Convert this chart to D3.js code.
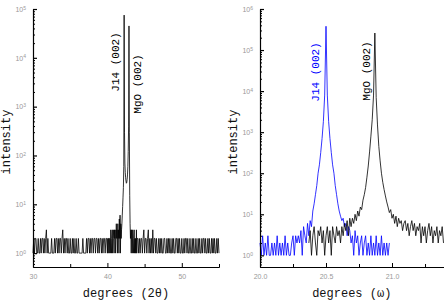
<!DOCTYPE html>
<html>
<head>
<meta charset="utf-8">
<script src="https://cdn.jsdelivr.net/npm/d3@7"></script>
<style>
body { margin: 0; background: #fff; }
svg { display: block; font-family: "Liberation Mono", "DejaVu Sans Mono", monospace; }
.tick text { fill: #999; font-family: "Liberation Sans", Arial, sans-serif; font-size: 7px; }
.axis path, .axis line { stroke: #000; }
</style>
</head>
<body>
<script>
'use strict';

// 2theta scan (three sampling windows)
var thetaLowStart = 30.0, thetaLowStep = 0.1;
var thetaLow = [
    1,2,1,2,2,1,1,2,1,1,
    2,1,2,2,1,2,1,2,3,1,
    2,1,1,1,1,2,1,1,1,2,
    1,2,2,1,2,1,2,2,1,2,
    3,1,2,1,2,2,1,2,1,1,
    2,1,1,2,1,2,1,1,2,1,
    1,2,1,1,1,1,1,2,1,1,
    1,1,2,1,2,2,1,2,1,2,
    2,1,2,2,1,2,2,1,2,1,
    2,2,1,2,1,2,2,1,2,2
];
var thetaPeakStart = 40.0, thetaPeakStep = 0.05;
var thetaPeak = [
    1,2,1,2,2,1,2,2,1,3,
    2,1,2,3,1,2,3,2,1,3,
    2,3,1,2,4,2,3,1,4,2,
    3,1,5,2,6,1,4,2,3,4,
    6,9,14,22,60,75000,300,70,45,35,
    30,27,28,32,40,60,120,400,45000,300,
    15,4,2,3,1,3,2,1,3,2,
    1,2,3,1,2,1,2,1,3,1,
    2
];
var thetaHighStart = 44.1, thetaHighStep = 0.1;
var thetaHigh = [
    2,1,2,1,2,2,1,2,3,1,
    2,2,1,2,3,1,2,1,2,1,
    3,1,2,2,1,2,1,1,2,1,
    2,1,2,1,1,2,2,1,1,2,
    1,2,1,2,1,1,2,1,2,1,
    1,2,2,1,2,1,2,1,1,2,
    1,1,2,1,2,2,1,2,1,1,
    2,1,1,2,1,2,1,1,2,1,
    1,2,1,2,1,1,2,1,2,2,
    1,2,1,1,2,1,2,1,1,2,
    1,2,1,2,1,1,2,1,2,1
];

// omega scans (step 0.01)
var omegaJ14Start = 20.0;
var omegaJ14 = [
    2,1,3,1,2,1,3,1,1,2,
    1,2,1,3,1,2,1,2,1,3,
    1,2,1,1,2,3,1,3,2,3,
    2,4,1,5,3,2,6,3,7,5,
    12,18,30,50,100,160,320,700,1800,8000,
    380000,8000,1800,700,320,160,100,50,30,18,
    12,9,7,8,5,6,3,5,4,2,
    3,1,4,2,3,1,2,3,1,2,
    3,1,2,1,3,1,2,1,3,1,
    2,1,3,1,2,1,2,1,2
];
var omegaMgOStart = 20.37;
var omegaMgO = [
    2,4,1,
    3,5,2,1,4,3,5,2,4,1,
    3,5,2,4,1,5,3,2,5,3,
    4,2,5,3,6,4,7,3,8,5,
    8,6,10,7,12,9,15,13,22,30,
    45,80,150,330,800,2000,8000,260000,7000,1500,
    450,200,100,60,40,28,20,15,11,13,
    8,10,6,9,5,8,6,7,4,6,
    7,4,6,3,5,7,4,6,3,5,
    4,6,2,5,3,5,2,4,6,3,
    5,2,4,3,5,2,4,3,5,2
];
var omegaStep = 0.01;

// ticks
var thetaTicks = [30, 40, 50];
var thetaMinorTicks = [35, 45, 55];
var omegaTicks = [20.0, 20.5, 21.0];
var omegaMinorTicks = [20.25, 20.75, 21.25];

function toPoints(start, step, values) {
    return values.map(function(v, i) { return [+(start + i * step).toFixed(3), v]; });
}

var svg = d3.select('body').append('svg')
    .attr('width', 445)
    .attr('height', 305);

var yBottom = 267, yTop = 9;

function drawPanel(p) {
    var x = d3.scaleLinear().domain(p.xDomain).range([p.left, p.right]);
    var y = d3.scaleLog().domain([0.52, p.yMax]).range([yBottom, yTop]);
    var g = svg.append('g');

    // series
    var line = d3.line()
        .x(function(d) { return x(d[0]); })
        .y(function(d) { return y(d[1]); });
    p.series.forEach(function(s) {
        g.append('path')
            .datum(s.points)
            .attr('fill', 'none')
            .attr('stroke', s.color)
            .attr('stroke-width', 0.8)
            .attr('d', line);
    });

    // y axis: decades + log minor ticks
    var decades = d3.range(0, Math.round(Math.log10(p.yMax)) + 1).map(function(e) { return Math.pow(10, e); });
    var minors = [];
    d3.range(-1, Math.round(Math.log10(p.yMax))).forEach(function(e) {
        for (var k = 2; k <= 9; k++) {
            var v = k * Math.pow(10, e);
            if (v >= 0.52 && v <= p.yMax) minors.push(v);
        }
    });
    g.append('g')
        .attr('class', 'axis')
        .attr('transform', 'translate(' + p.left + ',0)')
        .call(d3.axisLeft(y).tickValues(minors).tickSize(-2).tickSizeOuter(0).tickFormat(''));
    var yAxis = g.append('g')
        .attr('class', 'axis')
        .attr('transform', 'translate(' + p.left + ',0)')
        .call(d3.axisLeft(y).tickValues(decades).tickSize(-4).tickSizeOuter(0).tickPadding(7).tickFormat(''));
    yAxis.selectAll('.tick text')
        .text('10')
        .append('tspan')
        .attr('dy', '-0.45em')
        .attr('font-size', '5px')
        .text(function(d) { return Math.round(Math.log10(d)); });
    yAxis.selectAll('path, line').attr('stroke-width', 1.2);

    // x axis
    var xAxisG = g.append('g')
        .attr('class', 'axis')
        .attr('transform', 'translate(0,' + yBottom + ')');
    xAxisG.call(d3.axisBottom(x).tickValues(p.minorTicks).tickSize(-3).tickSizeOuter(0).tickFormat(''));
    xAxisG.append('g')
        .call(d3.axisBottom(x).tickValues(p.ticks).tickSize(-4).tickSizeOuter(0).tickPadding(7).tickFormat(p.format));
    xAxisG.selectAll('path').attr('stroke-width', 1.2);

    // axis titles
    svg.append('text')
        .attr('x', (p.left + p.right) / 2)
        .attr('y', 297)
        .attr('text-anchor', 'middle')
        .attr('font-size', '12px')
        .attr('fill', '#111')
        .text(p.xTitle);
    svg.append('text')
        .attr('transform', 'translate(' + (p.left - 27) + ',142) rotate(-90)')
        .attr('text-anchor', 'middle')
        .attr('dy', '0.35em')
        .attr('font-size', '12px')
        .attr('fill', '#111')
        .text('intensity');

    // peak labels
    p.labels.forEach(function(l) {
        svg.append('text')
            .attr('transform', 'translate(' + (x(l.at) + l.dx) + ',' + l.cy + ') rotate(-90)')
            .attr('text-anchor', 'middle')
            .attr('dy', '0.35em')
            .attr('font-size', '11px')
            .attr('fill', l.color)
            .text(l.text);
    });
}

drawPanel({
    left: 33, right: 219,
    xDomain: [30, 55], yMax: 1e5,
    ticks: thetaTicks, minorTicks: thetaMinorTicks,
    format: d3.format('d'),
    xTitle: 'degrees (2\u03b8)',
    series: [{
        color: '#000',
        points: toPoints(thetaLowStart, thetaLowStep, thetaLow)
            .concat(toPoints(thetaPeakStart, thetaPeakStep, thetaPeak))
            .concat(toPoints(thetaHighStart, thetaHighStep, thetaHigh))
    }],
    labels: [
        {text: 'J14 (002)', at: 42.25, dx: -9, cy: 62, color: '#000'},
        {text: 'MgO (002)', at: 42.9, dx: 8, cy: 84, color: '#000'}
    ]
});

drawPanel({
    left: 260, right: 443.5,
    xDomain: [20, 21.39], yMax: 1e6,
    ticks: omegaTicks, minorTicks: omegaMinorTicks,
    format: d3.format('.1f'),
    xTitle: 'degrees (\u03c9)',
    series: [
        {color: '#0000ff', points: toPoints(omegaJ14Start, omegaStep, omegaJ14)},
        {color: '#000', points: toPoints(omegaMgOStart, omegaStep, omegaMgO)}
    ],
    labels: [
        {text: 'J14 (002)', at: 20.5, dx: -11, cy: 72, color: '#0000ff'},
        {text: 'MgO (002)', at: 20.87, dx: -9, cy: 71, color: '#000'}
    ]
});
</script>
</body>
</html>
